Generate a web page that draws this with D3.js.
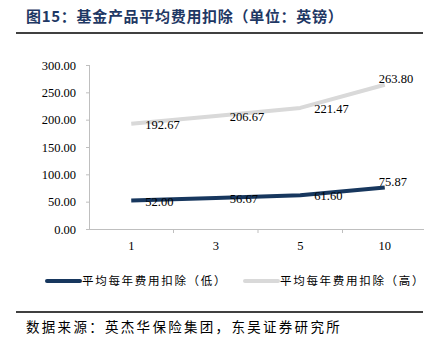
<!DOCTYPE html>
<html><head><meta charset="utf-8">
<script src="https://cdn.jsdelivr.net/npm/d3@7/dist/d3.min.js"></script>
<style>body{margin:0;background:#fff}svg{display:block}</style>
</head><body>
<svg id="c" width="432" height="347"></svg>
<script>
const categories = ["1", "3", "5", "10"];
const lowValues = [52.00, 56.67, 61.60, 75.87];
const highValues = [192.67, 206.67, 221.47, 263.80];
const seriesNames = ["平均每年费用扣除（低）", "平均每年费用扣除（高）"];
const yTicks = [0, 50, 100, 150, 200, 250, 300];
const titleText = "图15：基金产品平均费用扣除（单位：英镑）";
const sourceText = "数据来源：英杰华保险集团，东吴证券研究所";

const svg = d3.select("#c");
const serif = "'Liberation Serif','Times New Roman',serif";
const cjk = "'Noto Sans CJK SC','Noto Sans CJK JP',sans-serif";

// title
svg.append("text").attr("x", 26).attr("y", 22).attr("font-family", cjk)
  .attr("font-weight", "bold").attr("font-size", 15).attr("letter-spacing", 0.7)
  .attr("fill", "#1f3864").text(titleText);
svg.append("line").attr("x1", 16).attr("x2", 423).attr("y1", 33).attr("y2", 33)
  .attr("stroke", "#000").attr("stroke-width", 1.5);

const x = d3.scaleBand().domain(categories).range([89, 427]);
const y = d3.scaleLinear().domain([0, 300]).range([229, 65]);

const axisColor = "#bfbfbf";
const yAxis = svg.append("g").attr("transform", "translate(89,0)")
  .call(d3.axisLeft(y).tickValues(yTicks).tickSize(3).tickPadding(10).tickFormat(d3.format(".2f")));
const xAxis = svg.append("g").attr("transform", "translate(0,229)")
  .call(d3.axisBottom(x).tickSize(0).tickPadding(12));
svg.append("g").selectAll("line").data(categories.slice(1)).join("line")
  .attr("x1", d => x(d)).attr("x2", d => x(d)).attr("y1", 229).attr("y2", 233)
  .attr("stroke", axisColor);
xAxis.select(".domain").attr("d", "M86,0.5H424");
yAxis.select(".domain").attr("d", "M0.5,229V65");
[yAxis, xAxis].forEach(g => {
  g.selectAll(".domain,.tick line").attr("stroke", axisColor);
  g.selectAll("text").attr("font-family", serif).attr("font-size", 12.5).attr("fill", "#000");
});

const cx = d => x(d) + x.bandwidth() / 2;
const line = d3.line().x((d, i) => cx(categories[i])).y(d => y(d));

svg.append("path").datum(highValues).attr("d", line).attr("fill", "none")
  .attr("stroke", "#d9d9d9").attr("stroke-width", 4).attr("stroke-linejoin", "round");
svg.append("path").datum(lowValues).attr("d", line).attr("fill", "none")
  .attr("stroke", "#17375e").attr("stroke-width", 4).attr("stroke-linejoin", "round");

function labels(vals) {
  svg.append("g").selectAll("text").data(vals).join("text")
    .attr("x", (d, i) => cx(categories[i]) + (i === vals.length - 1 ? -6 : 14))
    .attr("y", (d, i) => y(d) + (i === vals.length - 1 ? -2 : 5))
    .attr("font-family", serif).attr("font-size", 12.5).attr("fill", "#000")
    .text(d => d.toFixed(2));
}
labels(highValues);
labels(lowValues);

// legend
const leg = [{c: "#17375e", x: 47}, {c: "#d9d9d9", x: 245}];
leg.forEach((l, i) => {
  svg.append("line").attr("x1", l.x).attr("x2", l.x + 33).attr("y1", 281).attr("y2", 281)
    .attr("stroke", l.c).attr("stroke-width", 4).attr("stroke-linecap", "round");
  svg.append("text").attr("x", l.x + 35).attr("y", 285).attr("font-family", cjk)
    .attr("font-size", 11.5).attr("letter-spacing", 1.7).attr("fill", "#000").text(seriesNames[i]);
});

svg.append("line").attr("x1", 16).attr("x2", 423).attr("y1", 312).attr("y2", 312)
  .attr("stroke", "#000").attr("stroke-width", 1.5);
svg.append("text").attr("x", 26).attr("y", 332).attr("font-family", cjk)
  .attr("font-size", 13.5).attr("letter-spacing", 2.3).attr("fill", "#000").text(sourceText);
</script>
</body></html>
